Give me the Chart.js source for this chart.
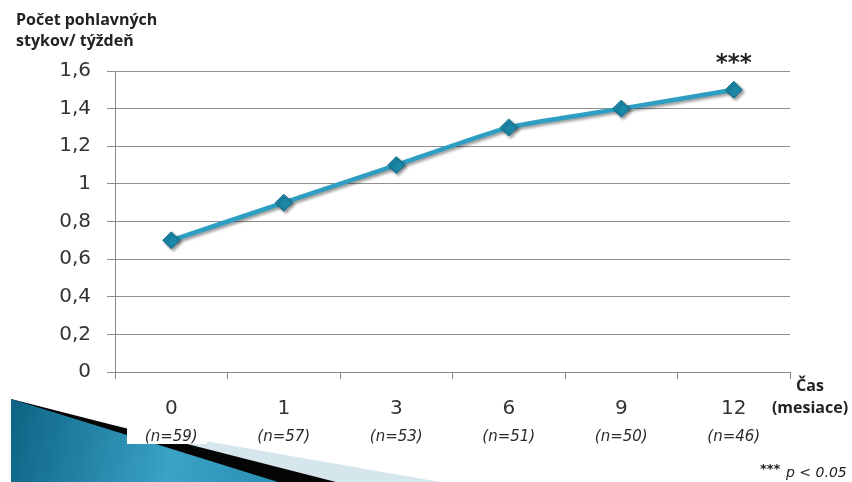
<!DOCTYPE html>
<html>
<head>
<meta charset="utf-8">
<script src="https://cdn.jsdelivr.net/npm/chart.js@4"></script>
<style>
  html, body { margin: 0; padding: 0; background: #fff; }
  #wrap { width: 852px; height: 482px; position: relative; }
</style>
</head>
<body>
<div id="wrap"><canvas id="freqChart" width="852" height="482"></canvas></div>
<script>
const months = ['0', '1', '3', '6', '9', '12']
const sampleSizes = ['(n=59)', '(n=57)', '(n=53)', '(n=51)', '(n=50)', '(n=46)']
const weeklyFrequency = [0.7, 0.9, 1.1, 1.3, 1.4, 1.5]
const significant = [false, false, false, false, false, true]
const yTitle = ['Počet pohlavných', 'stykov/ týždeň']
const xTitle = ['Čas', '(mesiace)']

const formatComma = (v) => String(Math.round(v * 10) / 10).replace('.', ',')

// blue swoosh in the bottom-left corner, sits behind the chart
const backdrop = {
    id: 'backdrop',
    beforeDraw(chart) {
        const ctx = chart.ctx
        ctx.save()
        ctx.fillStyle = '#fff'
        ctx.fillRect(0, 0, chart.width, chart.height)

        ctx.fillStyle = '#d5e6ed'
        ctx.beginPath()
        ctx.moveTo(11, 407); ctx.lineTo(440, 482); ctx.lineTo(11, 482); ctx.closePath()
        ctx.fill()

        ctx.fillStyle = '#050505'
        ctx.beginPath()
        ctx.moveTo(11, 399); ctx.lineTo(336, 482); ctx.lineTo(11, 482); ctx.closePath()
        ctx.fill()

        const grad = ctx.createLinearGradient(11, 420, 280, 482)
        grad.addColorStop(0, '#0e6585')
        grad.addColorStop(0.6, '#3aa3c6')
        grad.addColorStop(1, '#2a8fb2')
        ctx.fillStyle = grad
        ctx.beginPath()
        ctx.moveTo(11, 399); ctx.lineTo(278, 482); ctx.lineTo(11, 482); ctx.closePath()
        ctx.fill()

        // white box behind the first n label
        ctx.fillStyle = '#fff'
        ctx.fillRect(127, 419, 80, 25)
        ctx.restore()
    }
}

// shadow under line and diamonds
const dropShadow = {
    id: 'dropShadow',
    beforeDatasetsDraw(chart) {
        const ctx = chart.ctx
        ctx.save()
        ctx.shadowColor = 'rgba(0,0,0,0.4)'
        ctx.shadowBlur = 3
        ctx.shadowOffsetX = 2
        ctx.shadowOffsetY = 2
    },
    afterDatasetsDraw(chart) {
        chart.ctx.restore()
    }
}

const extraText = {
    id: 'extraText',
    afterDraw(chart) {
        const ctx = chart.ctx
        const x = chart.scales.x
        const y = chart.scales.y
        ctx.save()
        ctx.fillStyle = '#222'
        ctx.textBaseline = 'middle'

        ctx.font = 'bold 16px "Open Sans"'
        ctx.textAlign = 'left'
        yTitle.forEach((line, i) => ctx.fillText(line, 16, 20 + i * 21))

        ctx.textAlign = 'center'
        ctx.font = 'italic 15px "DejaVu Sans"'
        ctx.fillStyle = '#2a2a2a'
        sampleSizes.forEach((s, i) => ctx.fillText(s, x.getPixelForValue(i), 437))

        ctx.fillStyle = '#222'
        ctx.font = 'bold 23px "DejaVu Sans"'
        significant.forEach((sig, i) => {
            if (sig) ctx.fillText('***', x.getPixelForValue(i), y.getPixelForValue(weeklyFrequency[i]) - 26)
        })

        ctx.font = 'bold 16px "Open Sans"'
        ctx.fillText(xTitle[0], 810, 386)
        ctx.fillText(xTitle[1], 810, 408)

        ctx.textAlign = 'left'
        ctx.font = 'bold 13px "DejaVu Sans"'
        ctx.fillText('***', 760, 470)
        ctx.font = 'italic 14px "DejaVu Sans"'
        ctx.fillText('p < 0.05', 786, 473)
        ctx.restore()
    }
}

new Chart(document.getElementById('freqChart'), {
    type: 'line',
    data: {
        labels: months,
        datasets: [{
            data: weeklyFrequency,
            borderColor: '#2e9fc2',
            borderWidth: 4.5,
            tension: 0.15,
            pointStyle: 'rectRot',
            pointRadius: 8.5,
            pointBackgroundColor: '#1b88a8',
            pointBorderColor: '#15708c',
            pointBorderWidth: 1
        }]
    },
    options: {
        responsive: false,
        animation: false,
        events: [],
        layout: { padding: { left: 0, right: 62, top: 71, bottom: 0 } },
        plugins: { legend: { display: false }, tooltip: { enabled: false } },
        scales: {
            x: {
                offset: true,
                grid: { offset: true, drawOnChartArea: false, color: '#8a8a8a', tickLength: 7 },
                border: { color: '#8a8a8a' },
                ticks: { color: '#333', font: { family: 'DejaVu Sans', size: 20 }, padding: 18 },
                afterFit: (scale) => { scale.height = 110 }
            },
            y: {
                min: 0,
                max: 1.6,
                grid: { color: '#8f8f8f', tickLength: 8 },
                border: { color: '#8a8a8a' },
                ticks: {
                    stepSize: 0.2,
                    color: '#333',
                    font: { family: 'DejaVu Sans', size: 20 },
                    padding: 16,
                    callback: (v) => formatComma(v)
                },
                afterFit: (scale) => { scale.width = 115 }
            }
        }
    },
    plugins: [backdrop, dropShadow, extraText]
})
</script>
</body>
</html>
